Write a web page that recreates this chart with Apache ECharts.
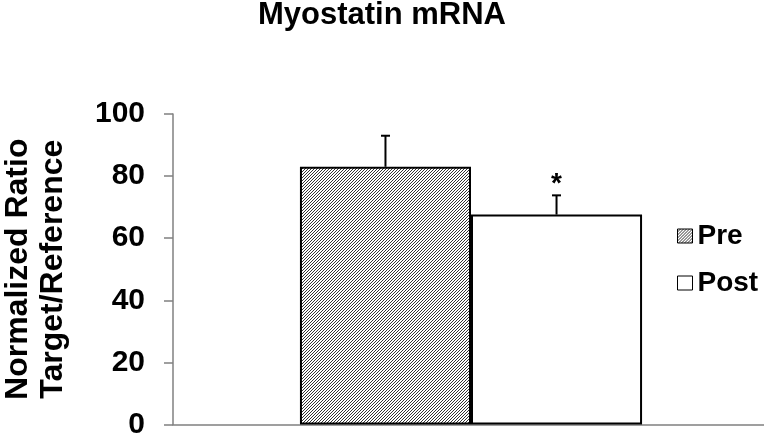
<!DOCTYPE html>
<html>
<head>
<meta charset="utf-8">
<script src="https://cdn.jsdelivr.net/npm/echarts@6/dist/echarts.min.js"></script>
<style>
    html, body { margin: 0; padding: 0; background: #fff; }
    #chart { width: 764px; height: 439px; }
</style>
</head>
<body>
<div id="chart"></div>
<script>
const categories = ['']
const seriesNames = ['Pre', 'Post']
const meanValues = [83, 67.6]
const errValues = [10, 6.2]
const sigMarks = ['', '*']

const barGapRatio = 0.426

// hatch fill for the Pre bar
function makeHatch() {
    const c = document.createElement('canvas')
    c.width = 3
    c.height = 3
    const ctx = c.getContext('2d')
    ctx.fillStyle = '#fff'
    ctx.fillRect(0, 0, 3, 3)
    ctx.strokeStyle = '#333'
    ctx.lineWidth = 1
    ctx.beginPath()
    ctx.moveTo(-1, 4); ctx.lineTo(4, -1)
    ctx.moveTo(-3, 3); ctx.lineTo(3, -3)
    ctx.moveTo(0, 6); ctx.lineTo(6, 0)
    ctx.stroke()
    return c
}

const fills = [{ image: makeHatch(), repeat: 'repeat' }, '#fff']

const myChart = echarts.init(document.getElementById('chart'))

const errData = meanValues.map((v, i) => [0, v, errValues[i], i])

const option = {
    animation: false,
    title: {
        text: 'Myostatin mRNA',
        left: 'center',
        top: 0,
        padding: 0,
        textStyle: {
            fontFamily: 'Liberation Sans',
            fontWeight: 'bold',
            fontSize: 31,
            color: '#000'
        }
    },
    legend: {
        orient: 'vertical',
        left: 672,
        top: 217,
        itemWidth: 15,
        itemHeight: 14,
        itemGap: 19,
        icon: 'rect',
        data: seriesNames,
        itemStyle: { borderColor: '#000', borderWidth: 1 },
        textStyle: {
            fontFamily: 'Liberation Sans',
            fontWeight: 'bold',
            fontSize: 28,
            color: '#000'
        }
    },
    grid: {
        left: 173,
        right: -5,
        top: 114,
        bottom: 14.5,
        outerBoundsMode: 'none'
    },
    xAxis: {
        type: 'category',
        data: categories,
        axisLine: { lineStyle: { color: '#808080', width: 1.5 } },
        axisTick: { show: false },
        axisLabel: { show: false }
    },
    yAxis: {
        type: 'value',
        min: 0,
        max: 100,
        interval: 20,
        name: 'Normalized Ratio\nTarget/Reference',
        nameLocation: 'middle',
        nameRotate: 90,
        nameGap: 102,
        nameTextStyle: {
            fontFamily: 'Liberation Sans',
            fontWeight: 'bold',
            fontSize: 32,
            lineHeight: 35,
            color: '#000'
        },
        splitLine: { show: false },
        axisLine: { show: true, lineStyle: { color: '#808080', width: 1.5 } },
        axisTick: { show: true, length: 9, lineStyle: { color: '#808080', width: 1.5 } },
        axisLabel: {
            margin: 28,
            fontFamily: 'Liberation Sans',
            fontWeight: 'bold',
            fontSize: 30,
            color: '#000'
        }
    },
    series: [
        ...seriesNames.map((name, i) => ({
            name: name,
            type: 'bar',
            barGap: '0%',
            barCategoryGap: (barGapRatio * 100) + '%',
            data: [meanValues[i]],
            itemStyle: {
                color: fills[i],
                borderColor: '#000',
                borderWidth: 2
            }
        })),
        {
            type: 'custom',
            name: 'err',
            data: errData,
            z: 5,
            renderItem: function (params, api) {
                const mean = api.value(1)
                const err = api.value(2)
                const idx = api.value(3)
                const base = api.coord([api.value(0), mean])
                const band = api.size([1, 0])[0]
                const barW = band * (1 - barGapRatio) / 2
                const x = base[0] + (idx - 0.5) * barW
                const top = api.coord([api.value(0), mean + err])[1]
                const style = { stroke: '#000', lineWidth: 2 }
                const children = [
                    { type: 'line', shape: { x1: x, y1: base[1], x2: x, y2: top }, style: style },
                    { type: 'line', shape: { x1: x - 4.5, y1: top, x2: x + 4.5, y2: top }, style: style }
                ]
                if (sigMarks[idx]) {
                    children.push({
                        type: 'text',
                        x: x,
                        y: top + 3,
                        style: {
                            text: sigMarks[idx],
                            fontFamily: 'Liberation Sans',
                            fontWeight: 'bold',
                            fontSize: 28,
                            fill: '#000',
                            align: 'center',
                            verticalAlign: 'bottom'
                        }
                    })
                }
                return { type: 'group', children: children }
            }
        }
    ]
}

myChart.setOption(option)
</script>
</body>
</html>
